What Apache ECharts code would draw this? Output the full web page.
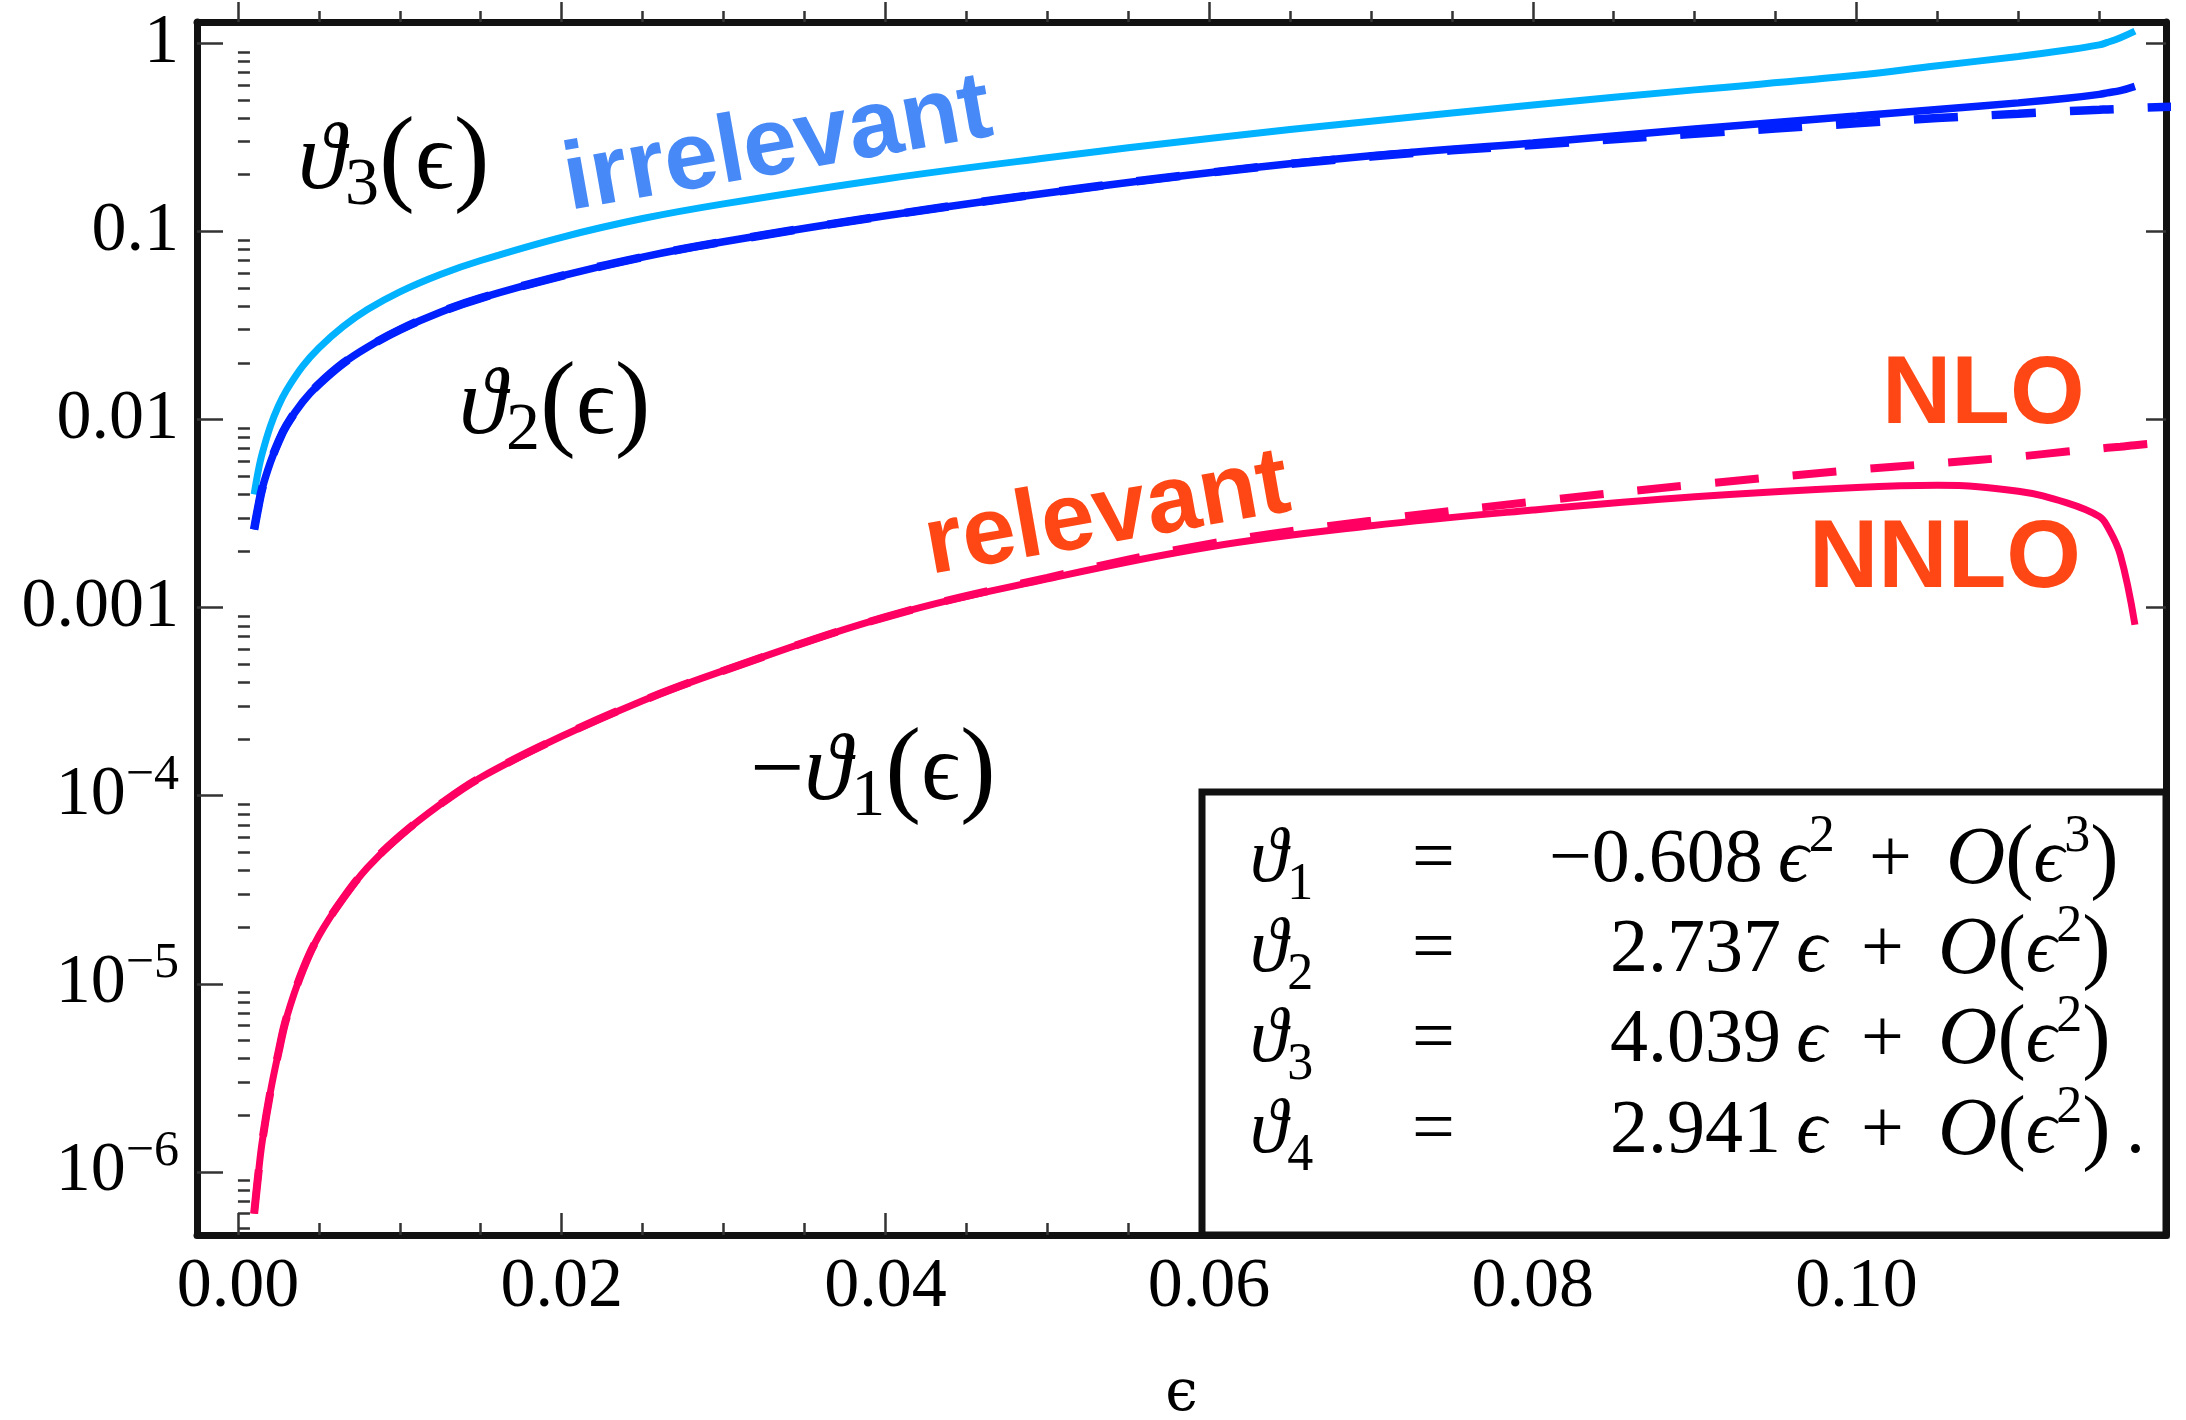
<!DOCTYPE html>
<html>
<head>
<meta charset="utf-8">
<script src="https://cdn.jsdelivr.net/npm/echarts@6/dist/echarts.min.js"></script>
<style>
html,body{margin:0;padding:0;background:#fff}
#main{width:2186px;height:1420px}
</style>
</head>
<body>
<div id="main"></div>
<script>
// epsilon grid and curve values
let eps = [0.001, 0.00125, 0.0015, 0.002, 0.0025, 0.003, 0.004, 0.005, 0.0065, 0.008,
  0.01, 0.0125, 0.015, 0.02, 0.025, 0.03, 0.04, 0.05, 0.06, 0.07,
  0.08, 0.09, 0.1, 0.105, 0.11, 0.113, 0.115, 0.1155, 0.1163, 0.1172, 0.1195]
let theta3 = [0.0040, 0.0053, 0.0066, 0.0092, 0.0118, 0.0143, 0.0192, 0.0240, 0.0312, 0.0384,
  0.0477, 0.059, 0.070, 0.093, 0.117, 0.140, 0.190, 0.246, 0.312, 0.385,
  0.47, 0.565, 0.675, 0.76, 0.85, 0.92, 0.98, 1.01, 1.07, 1.16, null]
let theta2 = [0.0026, 0.0034, 0.0043, 0.0059, 0.0076, 0.0093, 0.0124, 0.0154, 0.0199, 0.0242,
  0.0300, 0.0372, 0.0442, 0.058, 0.073, 0.088, 0.121, 0.160, 0.205, 0.252,
  0.295, 0.350, 0.410, 0.445, 0.482, 0.51, 0.535, 0.545, 0.56, 0.59, null]
let theta2NLO = [0.0026, 0.0034, 0.0043, 0.0059, 0.0076, 0.0093, 0.0124, 0.0154, 0.0199, 0.0242,
  0.0300, 0.0372, 0.0442, 0.058, 0.073, 0.088, 0.121, 0.160, 0.205, 0.25,
  0.288, 0.33, 0.375, 0.40, 0.422, 0.435, 0.443, 0.445, 0.448, 0.452, 0.46]
// -theta1
let theta1 = [6.0e-7, 9.6e-7, 1.45e-6, 2.65e-6, 4.3e-6, 6.6e-6, 1.18e-5, 1.8e-5, 2.85e-5, 4.15e-5,
  6.1e-5, 9.0e-5, 1.25e-4, 2.07e-4, 3.2e-4, 4.62e-4, 8.9e-4, 1.42e-3, 2.1e-3, 2.72e-3,
  3.3e-3, 3.88e-3, 4.35e-3, 4.47e-3, 4.15e-3, 3.6e-3, 3.05e-3, 2.7e-3, 1.9e-3, 8.1e-4, null]
let theta1NLO = [6.0e-7, 9.6e-7, 1.45e-6, 2.65e-6, 4.3e-6, 6.6e-6, 1.18e-5, 1.8e-5, 2.85e-5, 4.15e-5,
  6.1e-5, 9.0e-5, 1.25e-4, 2.07e-4, 3.2e-4, 4.62e-4, 8.9e-4, 1.44e-3, 2.18e-3, 2.9e-3,
  3.65e-3, 4.5e-3, 5.4e-3, 5.85e-3, 6.35e-3, 6.75e-3, 7.0e-3, 7.07e-3, 7.17e-3, 7.3e-3, 7.6e-3]

let xMajor = [0, 0.02, 0.04, 0.06, 0.08, 0.10]
let yMajor = [1e-6, 1e-5, 1e-4, 1e-3, 1e-2, 1e-1, 1]
let yTickText = ['{p|10}{s|−6}', '{p|10}{s|−5}', '{p|10}{s|−4}', '{p|0.001}', '{p|0.01}', '{p|0.1}', '{p|1}']

let xMin = -0.00253, xMax = 0.11912
let yMin = 4.62e-7, yMax = 1.297

let xMinor = []
for (let i = 1; i <= 23; i++) if (i % 4) xMinor.push(+(i * 0.005).toFixed(3))
let yMinor = []
for (let d = -7; d <= 0; d++) for (let k = 2; k <= 9; k++) {
  let v = k * Math.pow(10, d)
  if (v > yMin && v < yMax) yMinor.push(v)
}

const serif = "'Liberation Serif','DejaVu Serif',serif"
const sans = "'Liberation Sans',Arial,sans-serif"
const frame = {show: true, onZero: false, lineStyle: {color: '#111', width: 7}}
const tickLine = {color: '#333', width: 2.5}

function pairs(ys){
  return eps.map((x, i) => [x, ys[i]]).filter(p => p[1] != null)
}

function xAx(pos, vals, len, line, label){
  return {
    type: 'value', position: pos, min: xMin, max: xMax,
    axisLine: line ? frame : {show: false},
    // top axis ticks point down only with inside off here
    axisTick: {show: true, inside: pos == 'bottom', length: len, customValues: vals, lineStyle: tickLine},
    axisLabel: label ? {
      show: true, customValues: xMajor, margin: 18, fontSize: 70, lineHeight: 70,
      fontFamily: serif, color: '#000', formatter: v => v.toFixed(2)
    } : {show: false},
    splitLine: {show: false},
    name: label ? 'ϵ' : '', nameLocation: 'middle', nameGap: 130,
    nameTextStyle: {fontSize: 58, lineHeight: 60, fontFamily: "'DejaVu Serif',serif", color: '#000'}
  }
}

function yAx(pos, vals, len, line, label){
  return {
    type: 'log', logBase: 10, position: pos, min: yMin, max: yMax,
    axisLine: line ? frame : {show: false},
    axisTick: {show: true, inside: true, length: len, customValues: vals, lineStyle: tickLine},
    axisLabel: label ? {
      show: true, customValues: yMajor, margin: 18,
      formatter: v => {
        let i = yMajor.findIndex(m => Math.abs(Math.log10(m) - Math.log10(v)) < 0.01)
        return yTickText[i]
      },
      rich: {
        p: {fontSize: 70, fontFamily: serif, lineHeight: 90, verticalAlign: 'middle', color: '#000'},
        s: {fontSize: 50, fontFamily: serif, lineHeight: 46, verticalAlign: 'top', color: '#000'}
      }
    } : {show: false},
    splitLine: {show: false}
  }
}

function line(name, ys, color, width, dash){
  return {
    type: 'line', name, data: pairs(ys), showSymbol: false, smooth: 0.4,
    silent: true, xAxisIndex: 0, yAxisIndex: 0,
    lineStyle: {color, width, type: dash ? [44, 34] : 'solid', cap: 'butt'}
  }
}

// rich text styles for the math annotations
function mathRich(size, lh, subSize, subLh, supLh){
  let base = {fontSize: size, fontFamily: serif, lineHeight: lh, verticalAlign: 'middle', fill: '#000', color: '#000'}
  return {
    n: base,
    v: Object.assign({}, base, {fontStyle: 'italic'}),
    e: Object.assign({}, base, {fontStyle: 'italic'}),
    o: Object.assign({}, base, {fontStyle: 'italic', fontSize: size * 1.08}),
    b: Object.assign({}, base, {fontSize: size * 1.12}),
    sub: {fontSize: subSize, fontFamily: serif, lineHeight: subLh, verticalAlign: 'bottom', fill: '#000', color: '#000'},
    sup: {fontSize: subSize, fontFamily: serif, lineHeight: supLh, verticalAlign: 'top', fill: '#000', color: '#000'}
  }
}
let plotRich = mathRich(96, 114, 68, 64, 60)
let boxRich = mathRich(76, 100, 52, 54, 58)

function mathText(text, x, y, rich){
  return {type: 'text', x, y, z: 120, silent: true,
    style: {text, rich, align: 'left', verticalAlign: 'middle'}}
}
function wordText(text, x, y, color, deg){
  return {type: 'text', x, y, z: 120, silent: true, rotation: deg * Math.PI / 180,
    style: {text, fill: color, fontSize: 96, fontWeight: 'bold', fontFamily: sans,
      align: 'left', verticalAlign: 'middle'}}
}

const plus = '{n| \u2009+\u2009 }'
let boxRows = [
  ['{v|ϑ}{sub|1}', '{n|−0.608\u2009}{e|ϵ}{sup|2}' + plus + '{o|O}{b|(}{e|ϵ}{sup|3}{b|)}', 1549, 861],
  ['{v|ϑ}{sub|2}', '{n|2.737\u2009}{e|ϵ}' + plus + '{o|O}{b|(}{e|ϵ}{sup|2}{b|)}', 1610, 951],
  ['{v|ϑ}{sub|3}', '{n|4.039\u2009}{e|ϵ}' + plus + '{o|O}{b|(}{e|ϵ}{sup|2}{b|)}', 1610, 1041],
  ['{v|ϑ}{sub|4}', '{n|2.941\u2009}{e|ϵ}' + plus + '{o|O}{b|(}{e|ϵ}{sup|2}{b|)}{n|\u2009.}', 1610, 1132]
]

let graphic = [
  {type: 'rect', z: 110, silent: true, shape: {x: 1202, y: 792, width: 964, height: 443},
    style: {fill: '#fff', stroke: '#111', lineWidth: 7}},
  mathText('{v|ϑ}{sub|3}{b|(}{n|ϵ}{b|)}', 298, 163, plotRich),
  mathText('{v|ϑ}{sub|2}{b|(}{n|ϵ}{b|)}', 459, 408, plotRich),
  mathText('{n|−}{v|ϑ}{sub|1}{b|(}{n|ϵ}{b|)}', 750, 774, plotRich),
  wordText('irrelevant', 565, 184, '#4689f7', 10),
  wordText('relevant', 926, 548, '#ff4716', 10),
  wordText('NLO', 1882, 397, '#ff4716', 0),
  wordText('NNLO', 1809, 561, '#ff4716', 0)
]
boxRows.forEach(r => {
  graphic.push(mathText(r[0], 1250, r[3], boxRich))
  graphic.push(mathText('{n|=}', 1412, r[3], boxRich))
  graphic.push(mathText(r[1], r[2], r[3], boxRich))
})

let chart = echarts.init(document.getElementById('main'))
chart.setOption({
  animation: false,
  backgroundColor: '#fff',
  grid: {left: 197, right: 20, top: 22, bottom: 185, containLabel: false, outerBoundsMode: 'none'},
  xAxis: [
    xAx('bottom', xMajor, 22, true, true),
    xAx('bottom', xMinor, 12, false, false),
    xAx('top', xMajor, 20, true, false),
    xAx('top', xMinor, 11, false, false)
  ],
  yAxis: [
    yAx('left', yMajor, 26, true, true),
    yAx('left', yMinor, 12, false, false),
    yAx('right', yMajor, 20, true, false)
  ],
  series: [
    line('theta3', theta3, '#00b2ff', 7, false),
    line('theta2', theta2, '#0020ff', 7.5, false),
    line('theta2 NLO', theta2NLO, '#0020ff', 8.5, true),
    line('-theta1', theta1, '#ff0062', 7, false),
    line('-theta1 NLO', theta1NLO, '#ff0062', 8, true)
  ],
  graphic
})
</script>
</body>
</html>
